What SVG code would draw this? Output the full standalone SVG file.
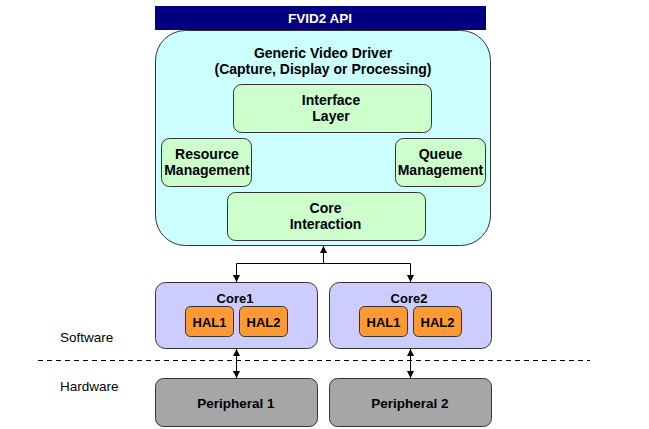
<svg xmlns="http://www.w3.org/2000/svg" width="649" height="429" viewBox="0 0 649 429">
<defs>
<style>
.t{font-family:"Liberation Sans",Arial,sans-serif;font-size:14px;font-weight:bold;fill:#000;text-anchor:middle}
.s{font-size:13px}
.lbl{font-family:"Liberation Sans",Arial,sans-serif;font-size:13.5px;fill:#000;}
.box{stroke:#333;stroke-width:1}
.green{fill:#CCFFCC}
.core{fill:#CCCCFF}
.hal{fill:#FF9933}
.per{fill:#A6A6A6}
.conn{fill:none;stroke:#000;stroke-width:1}
</style>
<marker id="ah" viewBox="0 0 10 10" refX="10" refY="5" markerWidth="7" markerHeight="7" orient="auto-start-reverse" markerUnits="userSpaceOnUse">
<path d="M0,0 L10,5 L0,10 z" fill="#000"/>
</marker>
</defs>
<rect width="649" height="429" fill="#fff"/>

<g id="api">
<rect x="155" y="6" width="331" height="24" fill="#000080"/>
<text class="t" x="320" y="23" style="fill:#fff;font-size:13.5px">FVID2 API</text>
</g>

<g id="driver">
<rect class="box" x="155.5" y="30.5" width="335" height="215" rx="30" fill="#CCFFFF"/>
<text class="t" x="323" y="58">Generic Video Driver</text>
<text class="t" x="323" y="74">(Capture, Display or Processing)</text>
</g>

<g id="interface">
<rect class="box green" x="233.5" y="84.5" width="198" height="48" rx="8"/>
<text class="t" x="331" y="104.5">Interface</text>
<text class="t" x="331" y="120.5">Layer</text>
</g>

<g id="resource">
<rect class="box green" x="161.5" y="138.5" width="90" height="48" rx="8"/>
<text class="t" x="207" y="159">Resource</text>
<text class="t" x="207" y="175">Management</text>
</g>

<g id="queue">
<rect class="box green" x="395.5" y="138.5" width="90" height="48" rx="8"/>
<text class="t" x="440.5" y="159">Queue</text>
<text class="t" x="440.5" y="175">Management</text>
</g>

<g id="coreint">
<rect class="box green" x="227.5" y="192.5" width="198" height="48" rx="8"/>
<text class="t" x="325.5" y="212.5">Core</text>
<text class="t" x="325.5" y="228.5">Interaction</text>
</g>

<g id="core1">
<rect class="box core" x="155.5" y="282.5" width="162" height="66" rx="10"/>
<text class="t s" x="235" y="303">Core1</text>
</g>
<g id="core1hal1">
<rect class="box hal" x="185.5" y="306.5" width="48" height="30" rx="5"/>
<text class="t s" x="209.5" y="326.5">HAL1</text>
</g>
<g id="core1hal2">
<rect class="box hal" x="239.5" y="306.5" width="48" height="30" rx="5"/>
<text class="t s" x="263.5" y="326.5">HAL2</text>
</g>

<g id="core2">
<rect class="box core" x="329.5" y="282.5" width="162" height="66" rx="10"/>
<text class="t s" x="409" y="303">Core2</text>
</g>
<g id="core2hal1">
<rect class="box hal" x="359.5" y="306.5" width="48" height="30" rx="5"/>
<text class="t s" x="383.5" y="326.5">HAL1</text>
</g>
<g id="core2hal2">
<rect class="box hal" x="413.5" y="306.5" width="48" height="30" rx="5"/>
<text class="t s" x="437.5" y="326.5">HAL2</text>
</g>

<g id="per1">
<rect class="box per" x="155.5" y="378.5" width="162" height="48" rx="8"/>
<text class="t" x="236" y="407.5" style="font-size:13.5px">Peripheral 1</text>
</g>
<g id="per2">
<rect class="box per" x="329.5" y="378.5" width="162" height="48" rx="8"/>
<text class="t" x="410" y="407.5" style="font-size:13.5px">Peripheral 2</text>
</g>

<g id="labels">
<text class="lbl" x="60" y="341.5">Software</text>
<text class="lbl" x="60" y="390.5">Hardware</text>
</g>

<g id="connectors">
<line class="conn" x1="38" y1="360.5" x2="590" y2="360.5" stroke-dasharray="5,4"/>
<path class="conn" d="M323.5,263.5 L323.5,246" marker-end="url(#ah)"/>
<path class="conn" d="M236.5,263.5 L410.5,263.5"/>
<path class="conn" d="M236.5,263.5 L236.5,282" marker-end="url(#ah)"/>
<path class="conn" d="M410.5,263.5 L410.5,282" marker-end="url(#ah)"/>
<path class="conn" d="M236.5,349 L236.5,378" marker-start="url(#ah)" marker-end="url(#ah)"/>
<path class="conn" d="M410.5,349 L410.5,378" marker-start="url(#ah)" marker-end="url(#ah)"/>
</g>
</svg>
